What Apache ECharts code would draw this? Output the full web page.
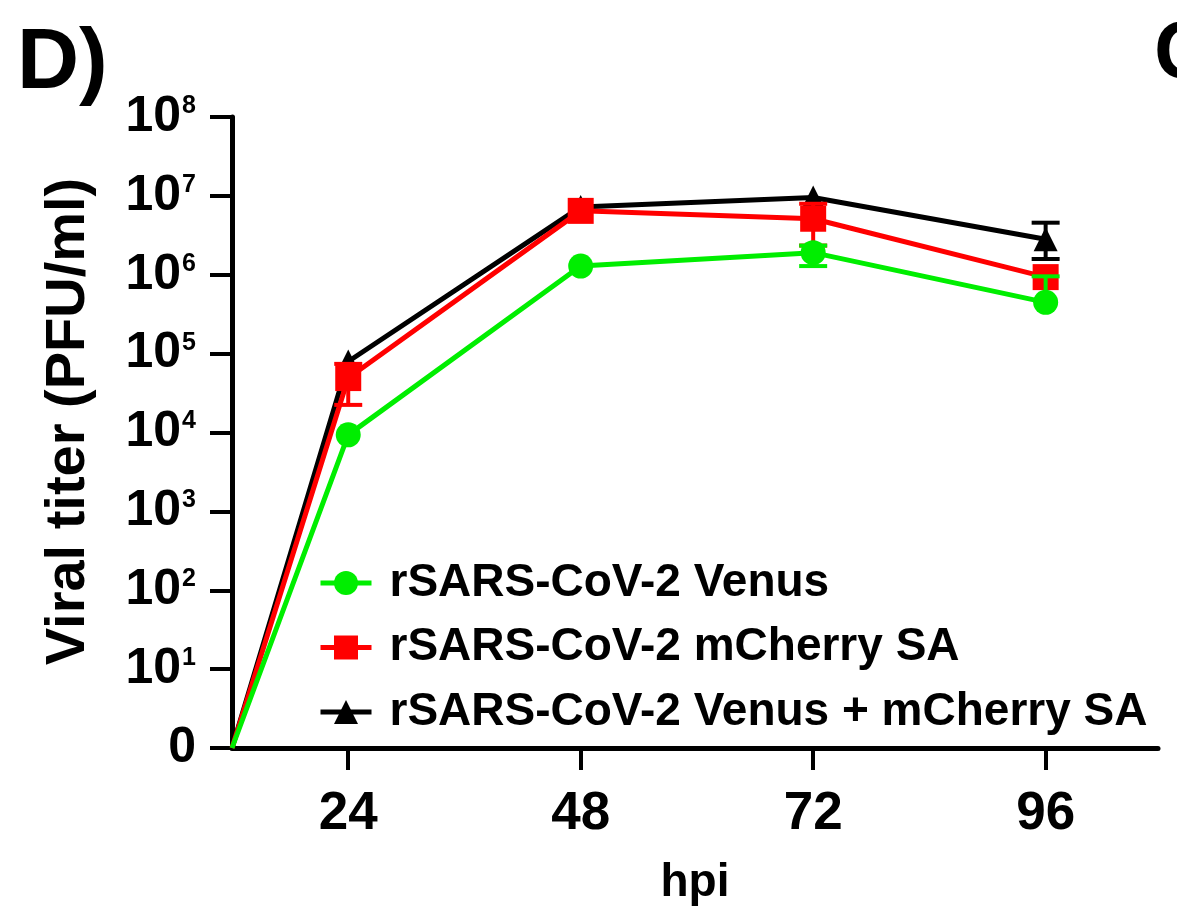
<!DOCTYPE html>
<html>
<head>
<meta charset="utf-8">
<script src="https://cdn.jsdelivr.net/npm/echarts@6/dist/echarts.min.js"></script>
<style>
html,body{margin:0;padding:0;background:#fff;}
#chart{width:1177px;height:911px;}
</style>
</head>
<body>
<div id="chart"></div>
<script>
// hours post infection (first point = start of axis, titer 0)
const hours = [12, 24, 48, 72, 96];
const xTickValues = [24, 48, 72, 96];
const yTickValues = [0, 1, 2, 3, 4, 5, 6, 7, 8];
const seriesNames = ['rSARS-CoV-2 Venus', 'rSARS-CoV-2 mCherry SA', 'rSARS-CoV-2 Venus + mCherry SA'];
// log10 viral titer (PFU/ml); 0 plotted at the "0" baseline
const venusLog = [0, 3.97, 6.11, 6.28, 5.65];
const cherryLog = [0, 4.69, 6.81, 6.71, 5.97];
const comboLog = [0, 4.90, 6.86, 6.98, 6.45];
// error bar ends [low, high] in log10
const venusErr = [[0, 0], [3.97, 3.97], [6.11, 6.11], [6.11, 6.37], [5.65, 5.98]];
const cherryErr = [[0, 0], [4.35, 4.87], [6.81, 6.81], [6.37, 6.90], [5.97, 5.97]];
const comboErr = [[0, 0], [4.90, 4.90], [6.86, 6.86], [6.98, 6.98], [6.20, 6.66]];

const FONT = '"Liberation Sans", Arial, sans-serif';

function lineSeries(name, vals, color, symbol, size, z) {
  return {
    name: name, type: 'line',
    data: hours.map((h, i) => vals[i] === 0 ? { value: [h, vals[i]], symbol: 'none' } : [h, vals[i]]),
    symbol: symbol, symbolSize: size, showSymbol: true,
    lineStyle: { color: color, width: 5 },
    itemStyle: { color: color },
    z: z, animation: false
  };
}
function errSeries(name, vals, errs, color, z) {
  const data = hours.map((h, i) => [h, vals[i], errs[i][0], errs[i][1]]);
  return {
    name: name, type: 'custom', z: z, animation: false,
    data: data,
    renderItem: function (params, api) {
      const x = api.value(0), m = api.value(1), lo = api.value(2), hi = api.value(3);
      const children = [];
      const cap = 14;
      const pm = api.coord([x, m]);
      [[lo, m], [hi, m]].forEach(function (p) {
        if (Math.abs(p[0] - p[1]) < 1e-6) return;
        const pe = api.coord([x, p[0]]);
        children.push({ type: 'line', shape: { x1: pm[0], y1: pm[1], x2: pe[0], y2: pe[1] }, style: { stroke: color, lineWidth: 4 } });
        children.push({ type: 'line', shape: { x1: pe[0] - cap, y1: pe[1], x2: pe[0] + cap, y2: pe[1] }, style: { stroke: color, lineWidth: 4 } });
      });
      return { type: 'group', children: children };
    }
  };
}

const chart = echarts.init(document.getElementById('chart'), null, { renderer: 'canvas' });
chart.setOption({
  backgroundColor: '#fff',
  animation: false,
  textStyle: { fontFamily: FONT },
  title: {
    text: 'D)', left: 12, top: 16,
    textStyle: { fontSize: 86, fontWeight: 'bold', color: '#000', fontFamily: FONT }
  },
  graphic: [{
    type: 'text', left: 1154, top: 14,
    style: { text: 'C', font: 'bold 82px ' + FONT, fill: '#000' }
  }],
  grid: { left: 232, right: 19, top: 117, bottom: 163, containLabel: false },
  legend: {
    orient: 'vertical', left: 313, top: 553,
    data: seriesNames,
    itemWidth: 51, itemHeight: 30, itemGap: 14.5,
    lineStyle: { width: 5 },
    textStyle: { fontSize: 46, fontWeight: 'bold', color: '#000', fontFamily: FONT, lineHeight: 50, padding: [0, 0, 0, 13] }
  },
  xAxis: {
    type: 'value', min: 12, max: 107.6,
    name: 'hpi', nameLocation: 'middle', nameGap: 112,
    nameTextStyle: { fontSize: 46, fontWeight: 'bold', color: '#000', fontFamily: FONT },
    axisLine: { show: true, lineStyle: { color: '#000', width: 5 } },
    axisTick: { show: true, customValues: xTickValues, length: 22, lineStyle: { color: '#000', width: 4 } },
    axisLabel: { customValues: xTickValues, margin: 40, fontSize: 53, fontWeight: 'bold', color: '#000', fontFamily: FONT },
    splitLine: { show: false }
  },
  yAxis: {
    type: 'value', min: 0, max: 8, interval: 1,
    name: 'Viral titer (PFU/ml)', nameLocation: 'middle', nameGap: 135,
    nameTextStyle: { fontSize: 56, fontWeight: 'bold', color: '#000', fontFamily: FONT, padding: [0, 0, 0, 22] },
    axisLine: { show: true, lineStyle: { color: '#000', width: 5 } },
    axisTick: { show: true, length: 22, lineStyle: { color: '#000', width: 4 } },
    axisLabel: {
      margin: 36, color: '#000',
      formatter: function (v) { return v === 0 ? '{b|0}' : '{b|10}{s|' + v + '}'; },
      rich: {
        b: { fontSize: 50, fontWeight: 'bold', color: '#000', fontFamily: FONT },
        s: { fontSize: 25, fontWeight: 'bold', color: '#000', fontFamily: FONT, padding: [0, 0, 22, 1] }
      }
    },
    splitLine: { show: false }
  },
  series: [
    lineSeries(seriesNames[2], comboLog, '#000000', 'triangle', 24, 2),
    errSeries('comboErr', comboLog, comboErr, '#000000', 2),
    lineSeries(seriesNames[1], cherryLog, '#ff0000', 'rect', 26, 3),
    errSeries('cherryErr', cherryLog, cherryErr, '#ff0000', 3),
    lineSeries(seriesNames[0], venusLog, '#00ee00', 'circle', 25, 4),
    errSeries('venusErr', venusLog, venusErr, '#00ee00', 4)
  ]
});
</script>
</body>
</html>
